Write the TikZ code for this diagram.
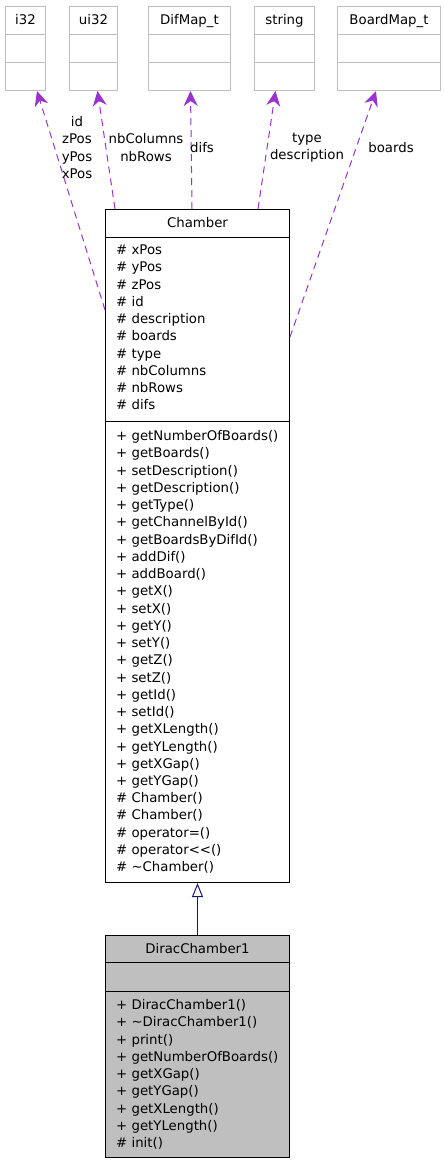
\documentclass[tikz,border=0pt]{standalone}
\usepackage{fontspec}
\setmainfont{DejaVu Sans}
\usetikzlibrary{arrows.meta}
\definecolor{boxgray}{HTML}{BFBFBF}
\definecolor{depcolor}{HTML}{9A32CD}
\definecolor{inhcolor}{HTML}{191970}

\begin{document}
\begin{tikzpicture}[x=1pt,y=-1pt,
        font=\fontsize{13.3}{17.2}\selectfont,
        tbox/.style={draw=boxgray,line width=1pt,anchor=north west,inner sep=0pt,minimum height=84pt},
        cbox/.style={draw=black,line width=1pt,anchor=north west,inner sep=0pt,minimum width=184pt},
        title/.style={anchor=base,inner sep=0pt},
        member/.style={anchor=base west,inner sep=0pt},
        dep/.style={depcolor,line width=1pt,dash pattern=on 7pt off 5pt,-{Stealth[length=15pt,width=14pt,inset=5pt]}},
        inh/.style={inhcolor,line width=1pt,-{Triangle[open,length=14pt,width=11pt]}}]
        \useasboundingbox (0,0) rectangle (444,1163);

        % member types
        \foreach \n/\x/\w/\t in {i32/5/40/i32,ui32/69/48/ui32,difmap/148/82/DifMap\_t,str/254/60/string,bmap/337/103/BoardMap\_t}{
            \node[tbox,minimum width=\w*1pt] (\n) at (\x,6) {};
            \node[title] (\n-title) at ([yshift=-18.7pt]\n.north) {\t};
            \draw[boxgray,line width=1pt] ([yshift=-28pt]\n.north west) -- ([yshift=-28pt]\n.north east);
            \draw[boxgray,line width=1pt] ([yshift=-56pt]\n.north west) -- ([yshift=-56pt]\n.north east);
        }

        % Chamber
        \node[cbox,minimum height=673pt] (chamber) at (105,209) {};
        \node[title] (chamber-title) at ([yshift=-18.7pt]chamber.north) {Chamber};
        \draw[line width=1pt] ([yshift=-28pt]chamber.north west) -- ([yshift=-28pt]chamber.north east);
        \draw[line width=1pt] ([yshift=-212pt]chamber.north west) -- ([yshift=-212pt]chamber.north east);
        \foreach \m [count=\i] in {\# xPos,\# yPos,\# zPos,\# id,\# description,\# boards,\# type,\# nbColumns,\# nbRows,\# difs}
            \node[member] (chamber-attr\i) at (116,{254.7+17.22*(\i-1)}) {\m};
        \foreach \m [count=\i] in {+ getNumberOfBoards(),+ getBoards(),+ setDescription(),+ getDescription(),+ getType(),
            + getChannelById(),+ getBoardsByDifId(),+ addDif(),+ addBoard(),+ getX(),+ setX(),+ getY(),+ setY(),
            + getZ(),+ setZ(),+ getId(),+ setId(),+ getXLength(),+ getYLength(),+ getXGap(),+ getYGap(),
            \# Chamber(),\# Chamber(),\# operator=(),\# operator{<}{<}(),\# \textasciitilde Chamber()}
            \node[member] (chamber-op\i) at (116,{440.7+17.24*(\i-1)}) {\m};

        % DiracChamber1
        \node[cbox,fill=boxgray,minimum height=222pt] (dirac) at (105,935) {};
        \node[title] (dirac-title) at ([yshift=-18.7pt]dirac.north) {DiracChamber1};
        \draw[line width=1pt] ([yshift=-27pt]dirac.north west) -- ([yshift=-27pt]dirac.north east);
        \draw[line width=1pt] ([yshift=-56pt]dirac.north west) -- ([yshift=-56pt]dirac.north east);
        \foreach \m [count=\i] in {+ DiracChamber1(),+ \textasciitilde DiracChamber1(),+ print(),+ getNumberOfBoards(),
            + getXGap(),+ getYGap(),+ getXLength(),+ getYLength(),\# init()}
            \node[member] (dirac-op\i) at (116,{1009.7+17.25*(\i-1)}) {\m};

        % inheritance
        \draw[inh] (dirac.north) -- (chamber.south);

        % usage
        \draw[dep] ([yshift=-101pt]chamber.north west) -- ([xshift=-9pt]i32.south east);
        \draw[dep] ([xshift=10pt]chamber.north west) -- ([xshift=4pt]ui32.south);
        \draw[dep] ([xshift=87pt]chamber.north west) -- ([xshift=1pt]difmap.south);
        \draw[dep] ([xshift=-32pt]chamber.north east) -- ([xshift=-9pt]str.south);
        \draw[dep] ([yshift=-128pt]chamber.north east) -- ([xshift=-13pt]bmap.south);

        \node[align=center,inner sep=0pt] (lbl-i32) at (77,147.5) {id\\zPos\\yPos\\xPos};
        \node[align=center,inner sep=0pt] (lbl-ui32) at (146,147.5) {nbColumns\\nbRows};
        \node[inner sep=0pt] (lbl-difmap) at (202,147.5) {difs};
        \node[align=center,inner sep=0pt] (lbl-str) at (307,147.5) {type\\description};
        \node[inner sep=0pt] (lbl-bmap) at (391,147.5) {boards};
    \end{tikzpicture}
\end{document}
